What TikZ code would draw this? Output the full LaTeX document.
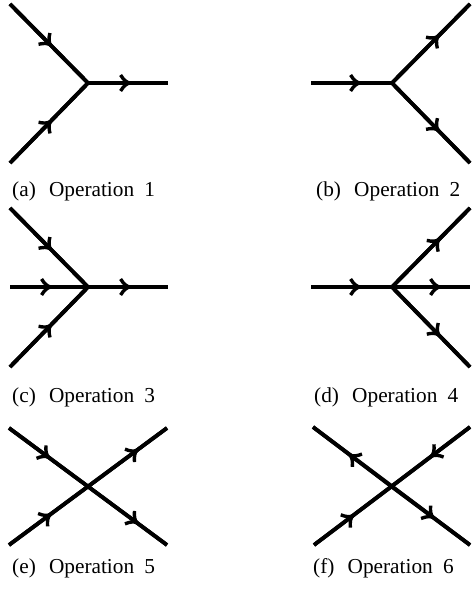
\documentclass[tikz,border=0pt]{standalone}
\usepackage{fontspec}
\setmainfont{Liberation Serif}
\usetikzlibrary{decorations.markings}
\tikzset{
  ln/.style={line width=3.8pt, draw=black},
  chevron/.style={line width=3.4pt, draw=black, line cap=butt},
  marr/.style={postaction={decorate, decoration={markings, mark=at position #1 with {\draw[chevron] (-9pt,8pt) .. controls (-6pt,3pt) and (-3pt,0.6pt) .. (0pt,0pt) .. controls (-3pt,-0.6pt) and (-6pt,-3pt) .. (-9pt,-8pt);}}}},
  joint/.style={line width=3.8pt, draw=black, line join=miter},
  captext/.style={anchor=base west, inner sep=0pt, font=\fontsize{21.3}{25}\selectfont},
}
\newcommand{\capsp}[3]{(#1)\hspace{0.62em}#2\hspace{0.48em}#3}
\begin{document}
\begin{tikzpicture}[x=1pt,y=-1pt]
\useasboundingbox (0,0) rectangle (472,593);
% (a)
\coordinate (a1) at (10,4);
\coordinate (a2) at (10,163);
\coordinate (av) at (88,83);
\coordinate (a3) at (168,83);
\draw[joint] (a1) -- (av) -- (a2);
\draw[ln, marr=0.52] (a1) -- (av);
\draw[ln, marr=0.52] (a2) -- (av);
\draw[ln, marr=0.52] (av) -- (a3);
\node[captext] (capa) at (12,197) {\capsp{a}{Operation}{1}};
% (b)
\coordinate (b0) at (311,83);
\coordinate (bv) at (392,83);
\coordinate (b1) at (470,4);
\coordinate (b2) at (470,163);
\draw[joint] (b1) -- (bv) -- (b2);
\draw[ln, marr=0.6] (b0) -- (bv);
\draw[ln, marr=0.59] (bv) -- (b1);
\draw[ln, marr=0.59] (bv) -- (b2);
\node[captext] (capb) at (316,197) {\capsp{b}{Operation}{2}};
% (c)
\coordinate (c1) at (10,208);
\coordinate (c2) at (10,367);
\coordinate (c0) at (10,287);
\coordinate (cv) at (88,287);
\coordinate (c3) at (168,287);
\draw[joint] (c1) -- (cv) -- (c2);
\draw[ln] (c0) -- (c3);
\draw[ln, marr=0.52] (c1) -- (cv);
\draw[ln, marr=0.52] (c2) -- (cv);
\draw[ln, marr=0.52] (c0) -- (cv);
\draw[ln, marr=0.52] (cv) -- (c3);
\node[captext] (capc) at (12,402) {\capsp{c}{Operation}{3}};
% (d)
\coordinate (d0) at (311,287);
\coordinate (dv) at (392,287);
\coordinate (d1) at (470,208);
\coordinate (d2) at (470,367);
\coordinate (d3) at (470,287);
\draw[joint] (d1) -- (dv) -- (d2);
\draw[ln] (d0) -- (d3);
\draw[ln, marr=0.6] (d0) -- (dv);
\draw[ln, marr=0.6] (dv) -- (d1);
\draw[ln, marr=0.61] (dv) -- (d3);
\draw[ln, marr=0.6] (dv) -- (d2);
\node[captext] (capd) at (314,402) {\capsp{d}{Operation}{4}};
% (e)
\coordinate (e1) at (9,428);
\coordinate (e2) at (167,545);
\coordinate (e3) at (9,545);
\coordinate (e4) at (167,428);
\coordinate (ev) at (88,486.5);
\draw[ln] (e1) -- (e2);
\draw[ln] (e3) -- (e4);
\draw[ln, marr=0.5] (e1) -- (ev);
\draw[ln, marr=0.52] (e3) -- (ev);
\draw[ln, marr=0.62] (ev) -- (e4);
\draw[ln, marr=0.62] (ev) -- (e2);
\node[captext] (cape) at (12,573) {\capsp{e}{Operation}{5}};
% (f)
\coordinate (f1) at (313,427);
\coordinate (f2) at (470,545);
\coordinate (f3) at (314,545);
\coordinate (f4) at (470,427);
\coordinate (fv) at (391.5,486.5);
\draw[ln] (f1) -- (f2);
\draw[ln] (f3) -- (f4);
\draw[ln, marr=0.53] (fv) -- (f1);
\draw[ln, marr=0.49] (f4) -- (fv);
\draw[ln, marr=0.5] (f3) -- (fv);
\draw[ln, marr=0.53] (fv) -- (f2);
\node[captext] (capf) at (313,573) {\capsp{f}{Operation}{6}};
\end{tikzpicture}
\end{document}
